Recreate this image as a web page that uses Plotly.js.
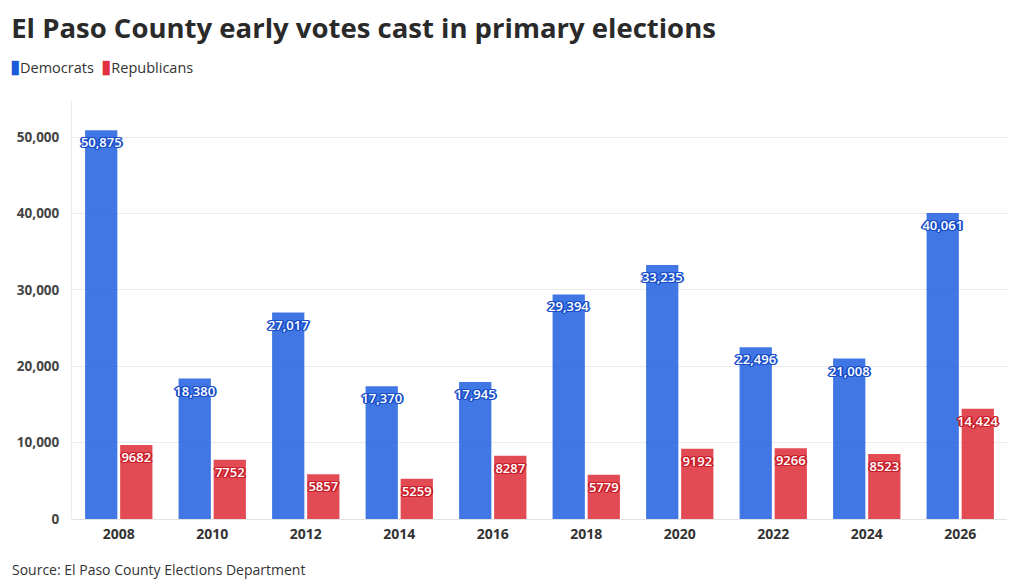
<!DOCTYPE html>
<html><head><meta charset="utf-8">
<script src="https://cdn.plot.ly/plotly-3.0.1.min.js"></script>
<style>body{margin:0;background:#fff}#c{width:1020px;height:588px}</style>
</head><body><div id="c"></div>
<script>
const years = ['2008','2010','2012','2014','2016','2018','2020','2022','2024','2026'];
const democrats = [50875, 18380, 27017, 17370, 17945, 29394, 33235, 22496, 21008, 40061];
const republicans = [9682, 7752, 5857, 5259, 8287, 5779, 9192, 9266, 8523, 14424];
const seriesNames = ['Democrats', 'Republicans'];
const seriesColors = ['#1f5fe0', '#dd2a36'];
const legendColors = ['#1a5bd9', '#e0323e'];

const fmt = v => v >= 10000 ? v.toLocaleString('en-US') : String(v);
const halo = c => `1px 1px 0 ${c}, -1px -1px 0 ${c}, 1px -1px 0 ${c}, -1px 1px 0 ${c}, 0 1px 0 ${c}, 0 -1px 0 ${c}, 1px 0 0 ${c}, -1px 0 0 ${c}, 2px 0 0 ${c}, -2px 0 0 ${c}`;
const FONT = 'Open Sans, sans-serif';

function trace(name, vals, color, dark) {
  return {
    type: 'bar', name: name, x: years, y: vals,
    marker: {color: color, opacity: 0.85},
    text: vals.map(fmt), textposition: 'inside', insidetextanchor: 'end', textangle: 0,
    constraintext: 'none', cliponaxis: false,
    textfont: {family: FONT, size: 13, color: '#fff', weight: 600, shadow: halo(dark)},
    hoverinfo: 'x+y'
  };
}

const data = [
  trace(seriesNames[0], democrats, seriesColors[0], '#1a4fc9'),
  trace(seriesNames[1], republicans, seriesColors[1], '#c81e2a')
];

const legendText = seriesNames.map((n, i) =>
  `<span style="color:${legendColors[i]};font-size:19px">▮</span>${n}`).join('&nbsp;&nbsp;');

const layout = {
  width: 1020, height: 588,
  paper_bgcolor: '#fff', plot_bgcolor: '#fff',
  margin: {l: 72, r: 13, t: 100, b: 69},
  barmode: 'group', bargap: 0.25, bargroupgap: 0.08,
  title: {text: 'El Paso County early votes cast in primary elections', x: 0.011, xanchor: 'left', y: 0.952, yanchor: 'middle',
          font: {family: FONT, size: 27.5, weight: 700, color: '#2a2a2a'}},
  showlegend: false,
  xaxis: {type: 'category', showgrid: false, showline: false, automargin: false,
          ticks: 'outside', ticklen: 2, tickcolor: 'rgba(0,0,0,0)',
          tickfont: {family: FONT, size: 14, weight: 700, color: '#333'}},
  yaxis: {range: [0, 54850], dtick: 10000, tickformat: ',d', showgrid: true, gridcolor: '#ececec', gridwidth: 1,
          zeroline: true, zerolinecolor: '#e2e2e2', showline: true, linecolor: '#ececec',
          ticks: 'outside', ticklen: 9, tickcolor: 'rgba(0,0,0,0)', automargin: false,
          tickfont: {family: FONT, size: 13.5, weight: 700, color: '#444'}},
  annotations: [
    {text: legendText, xref: 'paper', yref: 'paper', x: -0.068, xanchor: 'left',
     y: 1.081, yanchor: 'middle', showarrow: false, font: {family: FONT, size: 14.5, color: '#333'}},
    {text: 'Source: El Paso County Elections Department', xref: 'paper', yref: 'paper', x: -0.066, xanchor: 'left',
     y: -0.12, yanchor: 'middle', showarrow: false, font: {family: FONT, size: 14, color: '#333'}}]
};

Plotly.newPlot('c', data, layout, {displayModeBar: false});
</script></body></html>
